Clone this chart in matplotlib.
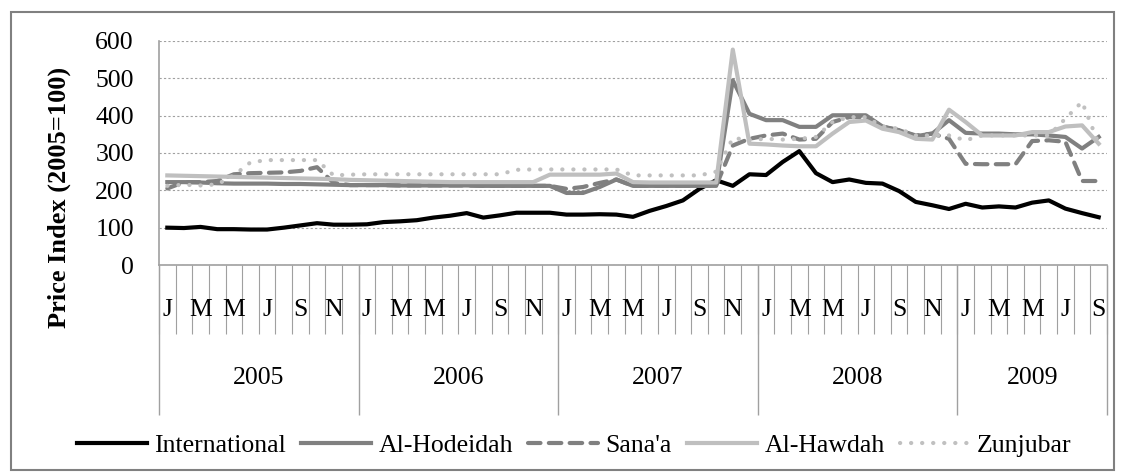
import numpy as np
import matplotlib.pyplot as plt
from matplotlib.patches import Rectangle

plt.rcParams['font.family'] = ['Liberation Serif', 'DejaVu Serif']

years = ['2005', '2006', '2007', '2008', '2009']
month_letters = ['J', 'F', 'M', 'A', 'M', 'J', 'J', 'A', 'S', 'O', 'N', 'D']
months_per_year = [12, 12, 12, 12, 9]

international = [100, 99, 102, 96, 96, 95, 95, 100, 106, 112, 108, 108,
                 109, 115, 117, 120, 127, 132, 139, 127, 133, 140, 140, 140,
                 135, 135, 136, 135, 129, 145, 158, 173, 204, 227, 212, 243,
                 241, 276, 305, 246, 222, 229, 220, 218, 198, 169, 160, 150,
                 164, 154, 157, 154, 167, 173, 151, 139, 128]
al_hodeidah = [222, 222, 221, 219, 218, 218, 218, 217, 217, 216, 215, 214,
               214, 214, 213, 213, 213, 213, 213, 212, 212, 212, 212, 212,
               193, 193, 209, 229, 212, 212, 212, 212, 212, 212, 495, 405,
               388, 388, 370, 370, 401, 401, 401, 371, 361, 345, 352, 388,
               354, 352, 352, 350, 350, 347, 343, 312, 343]
sanaa = [205, 222, 222, 225, 243, 246, 247, 248, 252, 262, 220, 214,
         214, 214, 213, 213, 213, 213, 213, 212, 212, 212, 212, 212,
         204, 209, 220, 229, 212, 212, 212, 212, 212, 212, 320, 338,
         347, 352, 336, 338, 383, 396, 396, 370, 361, 347, 352, 338,
         271, 270, 270, 270, 332, 334, 330, 225, 225]
al_hawdah = [240, 239, 238, 237, 236, 235, 234, 233, 232, 231, 230, 228,
             227, 226, 225, 224, 223, 222, 222, 222, 222, 222, 222, 242,
             242, 242, 242, 245, 222, 221, 221, 221, 221, 221, 577, 325,
             323, 320, 318, 318, 352, 383, 387, 365, 356, 338, 336, 416,
             383, 347, 347, 347, 356, 356, 371, 374, 325]
zunjubar = [212, 215, 213, 216, 240, 275, 281, 281, 281, 281, 240, 242,
            243, 243, 243, 243, 243, 243, 243, 243, 243, 255, 256, 256,
            256, 256, 256, 256, 240, 240, 240, 240, 240, 250, 340, 335,
            338, 336, 338, 343, 383, 396, 396, 371, 365, 347, 347, 347,
            334, 347, 347, 347, 347, 347, 392, 437, 325]

n = len(international)
x = np.arange(n)

fig = plt.figure(figsize=(11.22, 4.75), dpi=100)
ax = fig.add_axes([159 / 1122, 1 - 265 / 475, (1107 - 159) / 1122, 224 / 475])

lw = 3.0
ax.plot(x, international, color='black', lw=lw, label='International', solid_joinstyle='round')
ax.plot(x, al_hodeidah, color='#808080', lw=lw, label='Al-Hodeidah', solid_joinstyle='round')
ax.plot(x, sanaa, color='#808080', lw=lw, label="Sana'a", dashes=(3.0, 2.0),
        dash_capstyle='round')
ax.plot(x, al_hawdah, color='#bfbfbf', lw=lw, label='Al-Hawdah', solid_joinstyle='round')
ax.plot(x, zunjubar, color='#c0c0c0', lw=lw, label='Zunjubar', dashes=(0.05, 2.6),
        dash_capstyle='round')

ax.set_xlim(-0.5, n - 0.5)
ax.set_ylim(0, 600)
ax.set_yticks(np.arange(0, 601, 100))
ax.tick_params(axis='y', length=0, pad=18, labelsize=18.5)
ax.yaxis.grid(True, color='#a0a0a0', lw=0.8, ls=(0, (2, 2)))
ax.set_axisbelow(True)
fig.text(59 / 1122, 1 - 197 / 475, 'Price Index (2005=100)', rotation=90,
         ha='center', va='center', fontsize=19, fontweight='bold')

for s in ['top', 'right']:
    ax.spines[s].set_visible(False)
for s in ['left', 'bottom']:
    ax.spines[s].set_color('#a0a0a0')
    ax.spines[s].set_linewidth(1.2)

# month boundaries as ticks, labels in the cells
ax.set_xticks(np.arange(-0.5, n, 1.0), minor=True)
ax.tick_params(axis='x', which='minor', length=50, width=0.8, color='#a0a0a0', direction='out')
ax.set_xticks([])
trans = ax.get_xaxis_transform()
for i in range(n):
    m = i % 12
    if m % 2 == 0:
        ax.text(i, -0.2, month_letters[m], transform=trans, ha='center', va='center',
                fontsize=18.5)

# year separators and labels
edges = np.concatenate([[0], np.cumsum(months_per_year)]) - 0.5
ax.vlines(edges, -0.67, 0, transform=trans, color='#a0a0a0', lw=1.0, clip_on=False)
for k, yr in enumerate(years):
    ax.text((edges[k] + edges[k + 1]) / 2, -0.505, yr, transform=trans, ha='center',
            va='center', fontsize=18.5)

fig.legend(loc='center', bbox_to_anchor=(0.512, 0.062), ncol=5, frameon=False,
           fontsize=18.5, handlelength=2.7, handletextpad=0.3, columnspacing=0.6)

fig.patches.append(Rectangle((11 / 1122, 5 / 475), 1103 / 1122, 458 / 475,
                             transform=fig.transFigure, fill=False,
                             edgecolor='#808080', lw=1.5))

fig.savefig('out.png', dpi=100)
